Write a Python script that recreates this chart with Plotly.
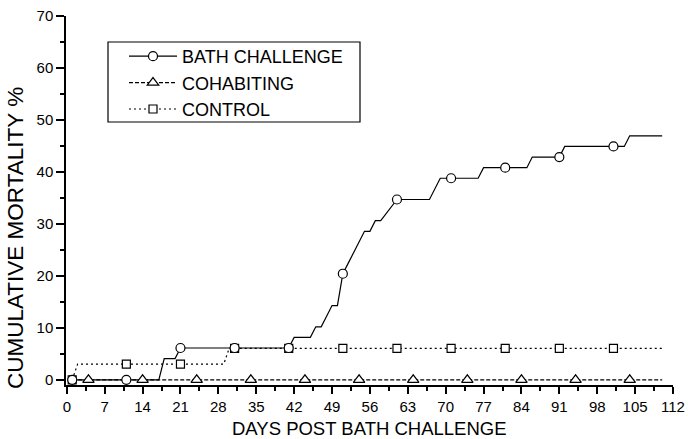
import plotly.graph_objects as go

# ---- data ----
bath_days = [1, 17, 18, 20, 21, 41, 42, 45, 46, 47, 48, 49, 50, 51, 52, 53, 54, 55, 56, 57, 58, 61,
             67, 69, 76, 77, 85, 86, 91, 92, 103, 104, 110]
bath_values = [0, 0, 4.08, 4.08, 6.12, 6.12, 8.16, 8.16, 10.2, 10.2, 12.24, 14.29, 14.29, 20.41,
               22.45, 24.49, 26.53, 28.57, 28.57, 30.61, 30.61, 34.69, 34.69, 38.78, 38.78, 40.82,
               40.82, 42.86, 42.86, 44.9, 44.9, 46.94, 46.94]
bath_marker_days = [1, 11, 21, 31, 41, 51, 61, 71, 81, 91, 101]
bath_marker_values = [0, 0, 6.12, 6.12, 6.12, 20.41, 34.69, 38.78, 40.82, 42.86, 44.9]

cohab_days = [1, 110]
cohab_values = [0, 0]
cohab_marker_days = [4, 14, 24, 34, 44, 54, 64, 74, 84, 94, 104]
cohab_marker_values = [0, 0, 0, 0, 0, 0, 0, 0, 0, 0, 0]

control_days = [1, 2, 29, 30, 110]
control_values = [0, 3.03, 3.03, 6.06, 6.06]
control_marker_days = [1, 11, 21, 31, 41, 51, 61, 71, 81, 91, 101]
control_marker_values = [0, 3.03, 3.03, 6.06, 6.06, 6.06, 6.06, 6.06, 6.06, 6.06, 6.06]

series_names = ["BATH CHALLENGE", "COHABITING", "CONTROL"]
x_ticks = [0, 7, 14, 21, 28, 35, 42, 49, 56, 63, 70, 77, 84, 91, 98, 105, 112]
y_ticks = [0, 10, 20, 30, 40, 50, 60, 70]

FONT = "Arial, Liberation Sans, sans-serif"
LW = 1.2
styles = [
    dict(dash="solid", symbol="circle", size=9),
    dict(dash="4px,2px", symbol="triangle-up", size=10),
    dict(dash="2px,3px", symbol="square", size=8),
]
lines = [(bath_days, bath_values), (cohab_days, cohab_values), (control_days, control_values)]
marks = [(bath_marker_days, bath_marker_values), (cohab_marker_days, cohab_marker_values),
         (control_marker_days, control_marker_values)]

fig = go.Figure()
for (xs, ys), st in zip(lines, styles):
    fig.add_trace(go.Scatter(x=xs, y=ys, mode="lines", showlegend=False, hoverinfo="skip",
                             line=dict(color="black", width=LW, dash=st["dash"])))
for i in [2, 1, 0]:
    xs, ys = marks[i]
    st = styles[i]
    fig.add_trace(go.Scatter(x=xs, y=ys, mode="markers", showlegend=False,
                             marker=dict(symbol=st["symbol"], size=st["size"], color="white",
                                         line=dict(color="black", width=LW))))
for name, st in zip(series_names, styles):
    fig.add_trace(go.Scatter(x=[None], y=[None], mode="lines+markers", name=name,
                             line=dict(color="black", width=LW, dash=st["dash"]),
                             marker=dict(symbol=st["symbol"], size=st["size"], color="white",
                                         line=dict(color="black", width=LW))))

L, R, T, B = 66, 15, 16, 54
W, H = 688, 439
pw, ph = W - L - R, H - T - B


def px_x(p):
    return (p - L) / pw


def px_y(p):
    return (H - B - p) / ph


fig.update_layout(
    width=W, height=H,
    autosize=False,
    margin=dict(l=L, r=R, t=T, b=B, autoexpand=False),
    paper_bgcolor="white", plot_bgcolor="white",
    font=dict(family=FONT, color="black", size=15),
    showlegend=True,
    legend=dict(x=px_x(124), y=px_y(38), xanchor="left", yanchor="top",
                borderwidth=0, bgcolor="rgba(0,0,0,0)",
                font=dict(size=18, family=FONT), itemwidth=48, tracegroupgap=0),
    shapes=[dict(type="rect", xref="paper", yref="paper",
                 x0=px_x(108), x1=px_x(360), y0=px_y(122), y1=px_y(42),
                 line=dict(color="black", width=1.2), fillcolor="white", layer="below")],
    xaxis=dict(range=[-0.15, 112], tickvals=x_ticks, ticktext=[str(v) for v in x_ticks],
               automargin=False,
               showgrid=False, zeroline=False, showline=True, linecolor="black", linewidth=1.5,
               ticks="outside", ticklen=7, tickwidth=1.5, tickcolor="black",
               tickfont=dict(size=15, family=FONT),
               minor=dict(ticks="outside", ticklen=4, tickwidth=1.5, tickcolor="black",
                          tickvals=[x + 3.5 for x in x_ticks[:-1]], showgrid=False)),
    yaxis=dict(range=[-1, 70], tickvals=y_ticks, ticktext=[str(v) for v in y_ticks],
               automargin=False,
               showgrid=False, zeroline=False, showline=True, linecolor="black", linewidth=1.5,
               ticks="outside", ticklen=8, tickwidth=1.5, tickcolor="black",
               tickfont=dict(size=15, family=FONT),
               minor=dict(ticks="outside", ticklen=4, tickwidth=1.5, tickcolor="black",
                          tickvals=[y + 5 for y in y_ticks[:-1]], showgrid=False)),
    annotations=[
        dict(text="DAYS POST BATH CHALLENGE", xref="paper", yref="paper",
             x=px_x(369), y=px_y(428), xanchor="center", yanchor="middle",
             showarrow=False, font=dict(size=18.5, family=FONT)),
        dict(text="CUMULATIVE MORTALITY %", xref="paper", yref="paper",
             x=px_x(16), y=px_y(238), xanchor="center", yanchor="middle", textangle=-90,
             showarrow=False, font=dict(size=22.5, family=FONT)),
    ],
)

fig.write_html("out.html", config={"displayModeBar": False},
               post_script="document.body.style.margin='0';document.body.style.overflow='hidden';")
